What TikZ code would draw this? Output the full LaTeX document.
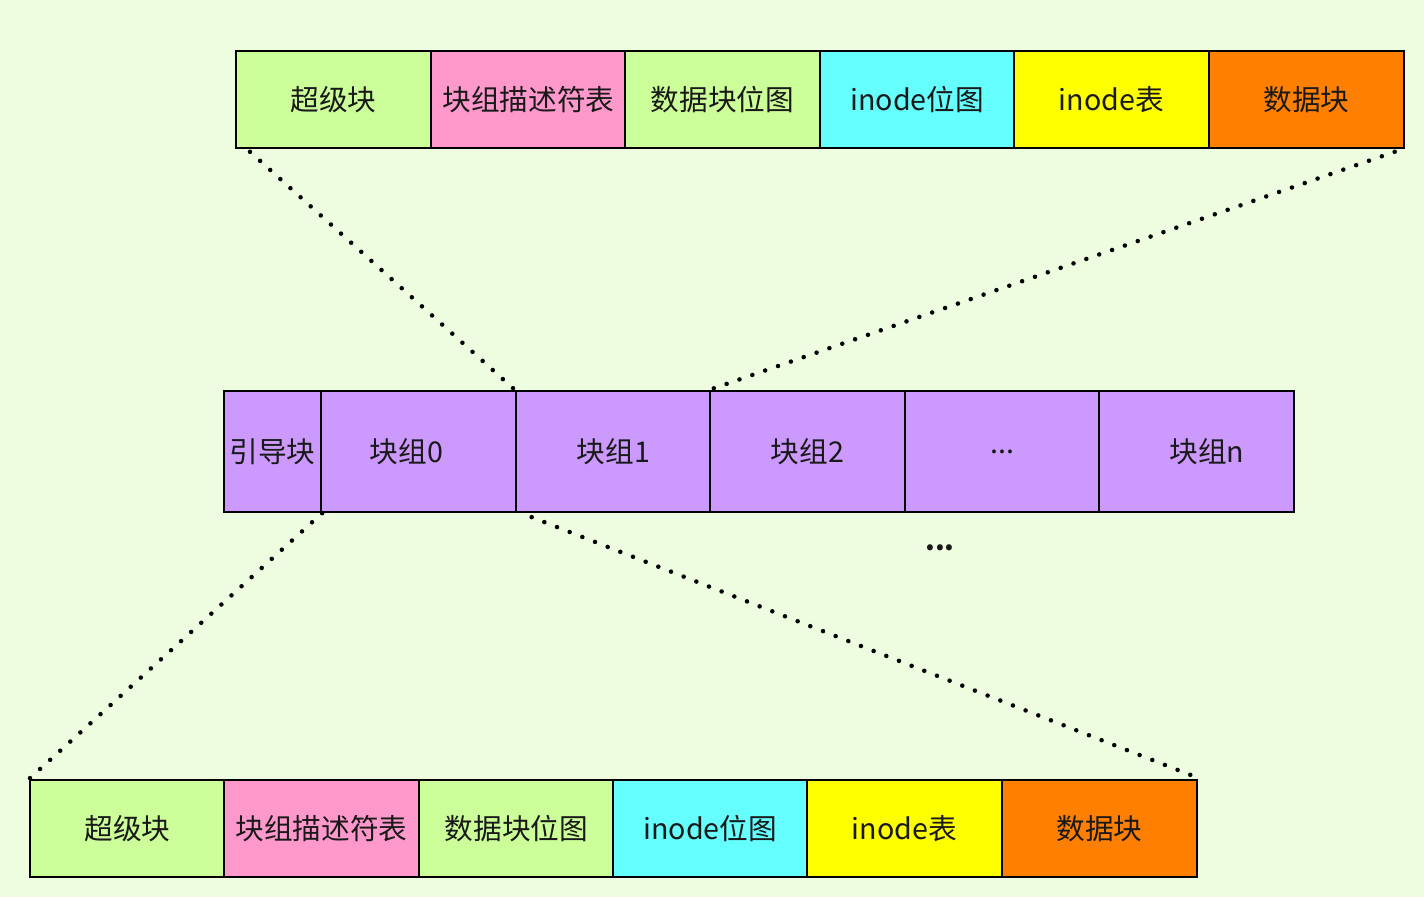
\documentclass[tikz,border=0pt]{standalone}
\usepackage{fontspec}
\setmainfont{Noto Sans CJK SC}
\usetikzlibrary{calc}
\definecolor{bgc}{HTML}{EEFDE0}
\definecolor{sbc}{HTML}{CCFF99}
\definecolor{pkc}{HTML}{FF99CC}
\definecolor{cyc}{HTML}{66FFFF}
\definecolor{ylc}{HTML}{FFFF00}
\definecolor{orc}{HTML}{FF8000}
\definecolor{puc}{HTML}{CC99FF}
\begin{document}
\begin{tikzpicture}[x=0.75pt,y=-0.75pt,
  cell/.style={draw=black,line width=1.6pt,anchor=north west,inner sep=0pt,
    minimum width=145.9pt,minimum height=72.5pt,font=\fontsize{21.5}{25}\selectfont,text=black!90},
  midcell/.style={cell,minimum height=90.75pt,fill=puc},
  dotline/.style={line width=3.4pt,line cap=round,dash pattern=on 0pt off 10.2pt,black}]
\fill[bgc] (0,0) rectangle (1424,897);
\useasboundingbox (0,0) rectangle (1424,897);
% top row
\node[cell,fill=sbc] (t1) at (235,50) {超级块};
\node[cell,fill=pkc] (t2) at (430,50) {块组描述符表};
\node[cell,fill=sbc] (t3) at (624,50) {数据块位图};
\node[cell,fill=cyc] (t4) at (819,50) {inode位图};
\node[cell,fill=ylc] (t5) at (1013,50) {inode表};
\node[cell,fill=orc] (t6) at (1208,50) {数据块};
% middle row
\node[midcell,minimum width=72.75pt] (m0) at (223,390) {引导块};
\node[midcell] (m1) at (320,390) {\hspace*{-18pt}块组0};
\node[midcell] (m2) at (515,390) {块组1};
\node[midcell] (m3) at (709,390) {块组2};
\node[midcell] (m4) at (904,390) {...};
\node[midcell] (m5) at (1098,390) {\hspace*{16pt}块组n};
% bottom row
\node[cell,fill=sbc] (b1) at (29,779) {超级块};
\node[cell,fill=pkc] (b2) at (223,779) {块组描述符表};
\node[cell,fill=sbc] (b3) at (418,779) {数据块位图};
\node[cell,fill=cyc] (b4) at (612,779) {inode位图};
\node[cell,fill=ylc] (b5) at (806,779) {inode表};
\node[cell,fill=orc] (b6) at (1001,779) {数据块};
\node[font=\fontsize{21}{24}\selectfont\bfseries,text=black!90] (dots) at (940,548) {...};
% dotted connectors
\draw[dotline] ($(t1.south west)+(15,3)$) -- (m2.north west);
\draw[dotline] ($(t6.south east)+(-10,3)$) -- (m3.north west);
\draw[dotline] (m0.south east) -- (b1.north west);
\draw[dotline] ($(m1.south east)+(15,4)$) -- ($(b6.north east)+(-7,-4)$);
\end{tikzpicture}
\end{document}
